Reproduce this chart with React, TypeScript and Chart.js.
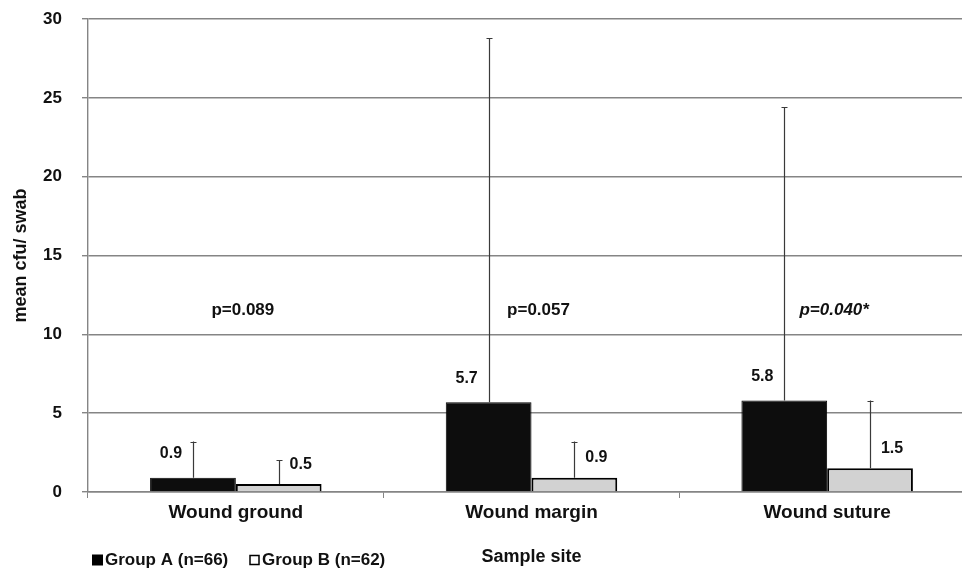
import React, { useEffect, useRef } from "react";
import { Chart, registerables } from "chart.js";

Chart.register(...registerables);

const categories = ["Wound ground", "Wound margin", "Wound suture"];
const groupALabel = "Group A (n=66)";
const groupBLabel = "Group B (n=62)";
const groupA = [0.9, 5.7, 5.8];
const groupB = [0.5, 0.9, 1.5];
const errA = [2.3, 23.1, 18.6];
const errB = [1.5, 2.3, 4.3];
const pLabels = ["p=0.089", "p=0.057", "p=0.040*"];
const pItalic = [false, false, true];
const pLevel = 11.5;
const yMin = 0;
const yMax = 30;
const yStep = 5;

const FONT = '"Liberation Sans", Arial, Helvetica, sans-serif';
const GRID = "#858585";
const TEXT = "#111";

const errorBarsPlugin = {
  id: "errorBars",
  afterDatasetsDraw(chart: any) {
    const ctx = chart.ctx;
    const y = chart.scales.y;
    const errs = [errA, errB];
    ctx.save();
    ctx.strokeStyle = "#3a3a3a";
    ctx.lineWidth = 1.2;
    chart.data.datasets.forEach((ds: any, di: number) => {
      const meta = chart.getDatasetMeta(di);
      meta.data.forEach((bar: any, i: number) => {
        const v = ds.data[i];
        const top = y.getPixelForValue(v + errs[di][i]);
        const x = Math.round(bar.x) + 0.5;
        ctx.beginPath();
        ctx.moveTo(x, bar.y);
        ctx.lineTo(x, top);
        ctx.moveTo(x - 3, Math.round(top) + 0.5);
        ctx.lineTo(x + 3, Math.round(top) + 0.5);
        ctx.stroke();
      });
    });
    ctx.restore();
  },
};

const labelsPlugin = {
  id: "valueLabels",
  afterDatasetsDraw(chart: any) {
    const ctx = chart.ctx;
    const xS = chart.scales.x;
    const yS = chart.scales.y;
    ctx.save();
    ctx.fillStyle = TEXT;
    ctx.textAlign = "center";
    ctx.textBaseline = "middle";
    ctx.font = `bold 16px ${FONT}`;
    const offs = [
      [-22, -24],
      [22, -20],
    ];
    chart.data.datasets.forEach((ds: any, di: number) => {
      const meta = chart.getDatasetMeta(di);
      meta.data.forEach((bar: any, i: number) => {
        ctx.fillText(
          ds.data[i].toFixed(1),
          bar.x + offs[di][0],
          bar.y + offs[di][1]
        );
      });
    });
    // p-values
    pLabels.forEach((t, i) => {
      ctx.font = `${pItalic[i] ? "italic " : ""}bold 17px ${FONT}`;
      ctx.fillText(t, xS.getPixelForValue(i) + 7, yS.getPixelForValue(pLevel));
    });
    // legend
    ctx.font = `bold 17px ${FONT}`;
    ctx.textAlign = "left";
    const ly = 560;
    ctx.fillStyle = "#000";
    ctx.fillRect(92, ly - 5.5, 11, 11);
    ctx.fillStyle = TEXT;
    ctx.fillText(groupALabel, 105, ly);
    ctx.strokeStyle = "#000";
    ctx.lineWidth = 1.5;
    ctx.fillStyle = "#fff";
    ctx.fillRect(250, ly - 4.5, 9, 9);
    ctx.strokeRect(250, ly - 4.5, 9, 9);
    ctx.fillStyle = TEXT;
    ctx.fillText(groupBLabel, 262, ly);
    ctx.restore();
  },
};

function BarChart() {
  const ref = useRef<HTMLCanvasElement>(null);
  useEffect(() => {
    if (!ref.current) return;
    const chart = new Chart(ref.current, {
      type: "bar",
      data: {
        labels: categories,
        datasets: [
          {
            label: groupALabel,
            data: groupA,
            backgroundColor: "#0d0d0d",
            borderColor: "#000",
            borderWidth: 1,
            barPercentage: 1,
            categoryPercentage: 0.58,
          },
          {
            label: groupBLabel,
            data: groupB,
            backgroundColor: "#d2d2d2",
            borderColor: "#000",
            borderWidth: 2,
            barPercentage: 1,
            categoryPercentage: 0.58,
          },
        ],
      },
      options: {
        responsive: false,
        animation: false,
        devicePixelRatio: 1,
        layout: { padding: { top: 19, right: 1, left: 0, bottom: 0 } },
        plugins: {
          legend: { display: false },
          tooltip: { enabled: false },
        },
        scales: {
          x: {
            offset: true,
            grid: {
              offset: true,
              drawOnChartArea: false,
              tickLength: 6,
              color: GRID,
            },
            border: { color: GRID, width: 1.4 },
            ticks: {
              color: TEXT,
              font: { family: FONT, size: 19, weight: "bold" },
              padding: 3,
              maxRotation: 0,
            },
            title: {
              display: true,
              text: "Sample site",
              color: TEXT,
              font: { family: FONT, size: 18, weight: "bold" },
              padding: { top: 0, bottom: 0 },
            },
            afterFit(s: any) {
              s.height = 76;
            },
          },
          y: {
            min: yMin,
            max: yMax,
            ticks: {
              stepSize: yStep,
              color: TEXT,
              font: { family: FONT, size: 17, weight: "bold" },
              padding: 20,
            },
            grid: { color: GRID, tickLength: 6, lineWidth: 1.4 },
            border: { color: GRID, width: 1.4 },
            title: {
              display: true,
              text: "mean cfu/ swab",
              color: TEXT,
              font: { family: FONT, size: 18, weight: "bold" },
              padding: { top: 10, bottom: 0 },
            },
            afterFit(s: any) {
              s.width = 88;
              s.paddingTop = 0;
              s.paddingBottom = 0;
            },
          },
        },
      },
      plugins: [errorBarsPlugin, labelsPlugin],
    });
    return () => chart.destroy();
  }, []);
  return <canvas ref={ref} width={976} height={568} style={{ display: "block" }} />;
}

export default function App() {
  return (
    <div
      style={{
        position: "fixed",
        left: 0,
        top: 0,
        width: 962,
        height: 568,
        overflow: "hidden",
        background: "#fff",
      }}
    >
      <div style={{ width: 976, height: 568 }}>
        <BarChart />
      </div>
    </div>
  );
}
